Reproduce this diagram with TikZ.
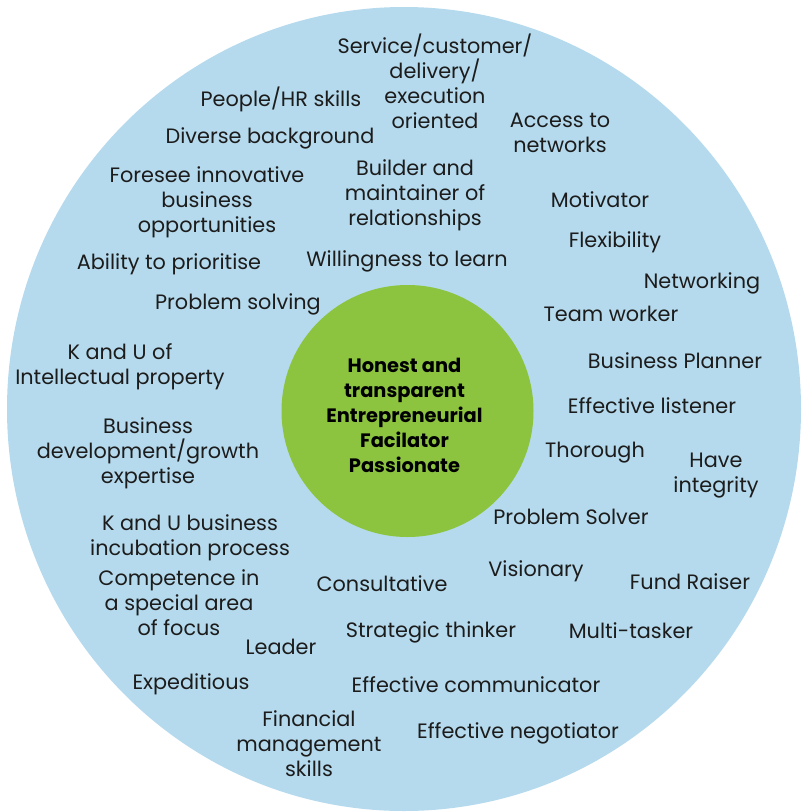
\documentclass[tikz,border=0pt]{standalone}
\usepackage{fontspec}
\setmainfont{Poppins}
\definecolor{bgblue}{HTML}{B5DAED}
\definecolor{midgreen}{HTML}{8DC43F}
\definecolor{txt}{HTML}{1C1C1C}
\begin{document}
\begin{tikzpicture}[x=1pt,y=-1pt,
  lbl/.style={font=\fontsize{20.8}{25}\selectfont, text=txt, align=center, inner sep=0pt},
  core/.style={font=\fontsize{19.4}{25}\selectfont\bfseries, text=black, align=center, inner sep=0pt}]
\useasboundingbox (0,0) rectangle (803,812);
\fill[bgblue] (404,409) ellipse [x radius=397, y radius=402];
\fill[midgreen] (407.5,411) circle [radius=126];
\node[core] (core) at (404.5,415) {Honest and\\transparent\\Entrepreneurial\\Facilator\\Passionate};
\node[lbl] (service) at (435,81) {Service/customer/\\delivery/\\execution\\oriented};
\node[lbl] (people) at (281,99) {People/HR skills};
\node[lbl] (diverse) at (270,138) {Diverse background};
\node[lbl] (access) at (560,133) {Access to\\networks};
\node[lbl] (builder) at (415,195) {Builder and\\maintainer of\\relationships};
\node[lbl] (foresee) at (207,202) {Foresee innovative\\business\\opportunities};
\node[lbl] (motivator) at (600,200) {Motivator};
\node[lbl] (flex) at (615,242) {Flexibility};
\node[lbl] (ability) at (169,264) {Ability to prioritise};
\node[lbl] (willing) at (407,261) {Willingness to learn};
\node[lbl] (networking) at (702,283) {Networking};
\node[lbl] (psolving) at (238,304) {Problem solving};
\node[lbl] (team) at (611,314) {Team worker};
\node[lbl] (kuip) at (120,367) {K and U of\\Intellectual property};
\node[lbl] (planner) at (675,361) {Business Planner};
\node[lbl] (listener) at (652,406) {Effective listener};
\node[lbl] (bizdev) at (148,453) {Business\\development/growth\\expertise};
\node[lbl] (thorough) at (595,453) {Thorough};
\node[lbl] (integrity) at (716,476) {Have\\integrity};
\node[lbl] (psolver) at (571,517) {Problem Solver};
\node[lbl] (incub) at (190,537.5) {K and U business\\incubation process};
\node[lbl] (compet) at (179,602.5) {Competence in\\a special area\\of focus};
\node[lbl] (vision) at (536,571) {Visionary};
\node[lbl] (consult) at (382,584) {Consultative};
\node[lbl] (fund) at (690,582) {Fund Raiser};
\node[lbl] (strat) at (431,632) {Strategic thinker};
\node[lbl] (multi) at (631,631) {Multi-tasker};
\node[lbl] (leader) at (281,647) {Leader};
\node[lbl] (exped) at (191,684.5) {Expeditious};
\node[lbl] (comm) at (476,685) {Effective communicator};
\node[lbl] (finance) at (309,744) {Financial\\management\\skills};
\node[lbl] (negot) at (518,733) {Effective negotiator};
\end{tikzpicture}
\end{document}
